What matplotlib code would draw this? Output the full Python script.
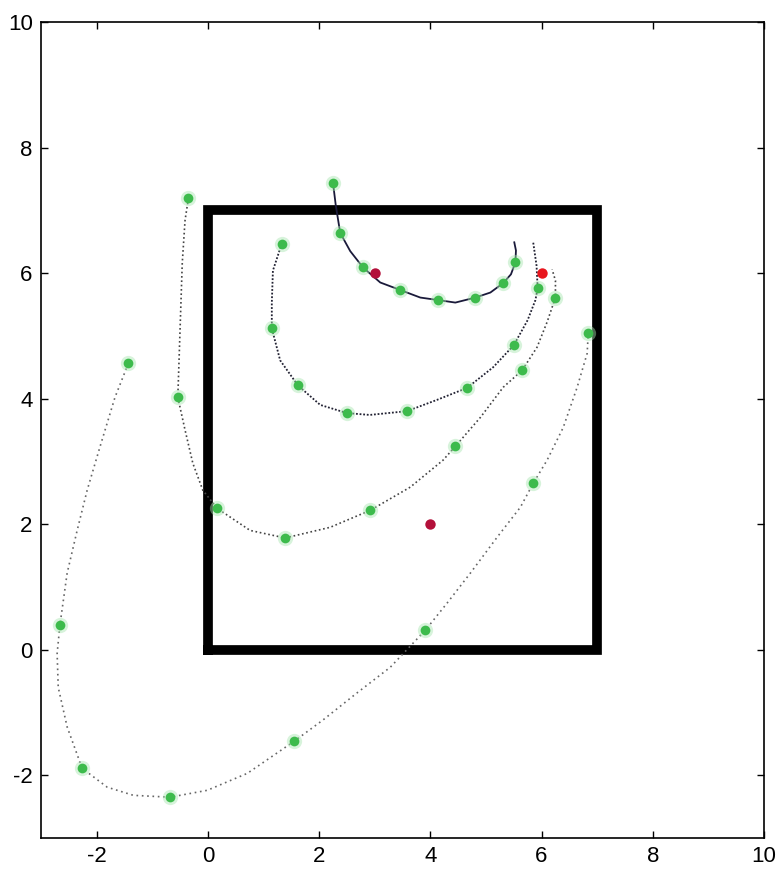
import matplotlib
matplotlib.use("Agg")
import matplotlib.pyplot as plt
from matplotlib import font_manager

# ---- data ----
square_x = [0, 7, 7, 0, 0]
square_y = [0, 0, 7, 7, 0]

path1_x = [2.25, 2.30, 2.38, 2.56, 2.79, 3.10, 3.46, 3.82, 4.14, 4.45, 4.81, 5.08, 5.31, 5.45, 5.53, 5.54, 5.51]
path1_y = [7.44, 7.08, 6.64, 6.35, 6.09, 5.85, 5.73, 5.61, 5.57, 5.53, 5.61, 5.69, 5.84, 5.98, 6.17, 6.36, 6.49]
pts1_x = [2.25, 2.38, 2.79, 3.46, 4.14, 4.81, 5.31, 5.53]
pts1_y = [7.44, 6.64, 6.09, 5.73, 5.57, 5.61, 5.84, 6.17]

path2_x = [1.33, 1.17, 1.15, 1.15, 1.30, 1.62, 2.02, 2.50, 2.91, 3.58, 4.12, 4.66, 5.13, 5.50, 5.75, 5.89, 5.93, 5.91, 5.85]
path2_y = [6.47, 6.04, 5.52, 5.12, 4.61, 4.21, 3.90, 3.77, 3.74, 3.80, 3.98, 4.17, 4.50, 4.85, 5.25, 5.57, 5.76, 6.12, 6.49]
pts2_x = [1.33, 1.15, 1.62, 2.50, 3.58, 4.66, 5.50, 5.93]
pts2_y = [6.47, 5.12, 4.21, 3.77, 3.80, 4.17, 4.85, 5.76]

path3_x = [-0.35, -0.41, -0.46, -0.50, -0.54, -0.41, -0.27, -0.09, 0.17, 0.76, 1.39, 2.20, 2.92, 3.64, 4.23, 4.45, 4.90, 5.31, 5.65, 5.92, 6.10, 6.25, 6.25, 6.19]
path3_y = [7.19, 6.84, 6.16, 5.09, 4.02, 3.50, 2.97, 2.54, 2.25, 1.90, 1.78, 1.95, 2.22, 2.59, 3.02, 3.24, 3.70, 4.18, 4.45, 4.82, 5.22, 5.61, 5.88, 6.06]
pts3_x = [-0.35, -0.54, 0.17, 1.39, 2.92, 4.45, 5.65, 6.25]
pts3_y = [7.19, 4.02, 2.25, 1.78, 2.22, 3.24, 4.45, 5.61]

path4_x = [-1.43, -1.67, -1.94, -2.17, -2.35, -2.53, -2.66, -2.71, -2.69, -2.53, -2.26, -1.81, -1.34, -0.68, -0.01, 0.71, 1.55, 2.07, 2.68, 3.28, 3.91, 4.30, 4.72, 5.20, 5.62, 5.85, 6.10, 6.39, 6.64, 6.82, 6.84]
path4_y = [4.56, 4.02, 3.23, 2.54, 1.90, 1.22, 0.39, -0.06, -0.60, -1.23, -1.89, -2.19, -2.32, -2.35, -2.24, -1.97, -1.46, -1.12, -0.69, -0.28, 0.31, 0.74, 1.22, 1.79, 2.27, 2.65, 3.02, 3.54, 4.18, 4.72, 5.04]
pts4_x = [-1.43, -2.66, -2.26, -0.68, 1.55, 3.91, 5.85, 6.84]
pts4_y = [4.56, 0.39, -1.89, -2.35, -1.46, 0.31, 2.65, 5.04]

red_dark_x = [3, 4]
red_dark_y = [6, 2]
red_bright_x = [6]
red_bright_y = [6]

x_ticks = [-2, 0, 2, 4, 6, 8, 10]
y_ticks = [-2, 0, 2, 4, 6, 8, 10]

# ---- font ----
names = {f.name for f in font_manager.fontManager.ttflist}
fam = ['Liberation Sans Narrow', 'DejaVu Sans'] if 'Liberation Sans Narrow' in names else ['Liberation Sans', 'DejaVu Sans']
plt.rcParams['font.family'] = fam

fig = plt.figure(figsize=(7.76, 8.82), dpi=100)
ax = fig.add_axes([41/776, 1-838/882, 723/776, 816/882])

# square
ax.plot(square_x, square_y, color='black', lw=7, solid_joinstyle='miter', zorder=2)

# paths
ax.plot(path4_x, path4_y, color='#666666', lw=1.2, ls=(0, (1, 2.2)), zorder=3)
ax.plot(path3_x, path3_y, color='#444444', lw=1.2, ls=(0, (1, 1.6)), zorder=3)
ax.plot(path2_x, path2_y, color='#222233', lw=1.3, ls=(0, (1, 1.0)), zorder=3)
ax.plot(path1_x, path1_y, color='#1a1a3a', lw=1.3, ls='-', zorder=3)

green = '#3dbb4c'
for px, py in [(pts1_x, pts1_y), (pts2_x, pts2_y), (pts3_x, pts3_y), (pts4_x, pts4_y)]:
    ax.plot(px, py, ls='none', marker='o', ms=11, color='#a8e6b0', alpha=0.45, mec='none', zorder=4)
    ax.plot(px, py, ls='none', marker='o', ms=7, color=green, mec='none', zorder=5)

ax.plot(red_dark_x, red_dark_y, ls='none', marker='o', ms=7.5, color='#b3103a', mec='none', zorder=6)
ax.plot(red_bright_x, red_bright_y, ls='none', marker='o', ms=7.5, color='#e8161e', mec='none', zorder=6)

ax.set_xlim(-3, 10)
ax.set_ylim(-3, 10)
ax.set_xticks(x_ticks)
ax.set_yticks(y_ticks)
ax.set_xticklabels([str(t) for t in x_ticks])
ax.set_yticklabels([str(t) for t in y_ticks])
ax.tick_params(direction='in', top=True, right=True, length=5, width=1,
               labelsize=16, pad=6)
for s in ax.spines.values():
    s.set_linewidth(1.2)

fig.savefig('out.png', dpi=100)
